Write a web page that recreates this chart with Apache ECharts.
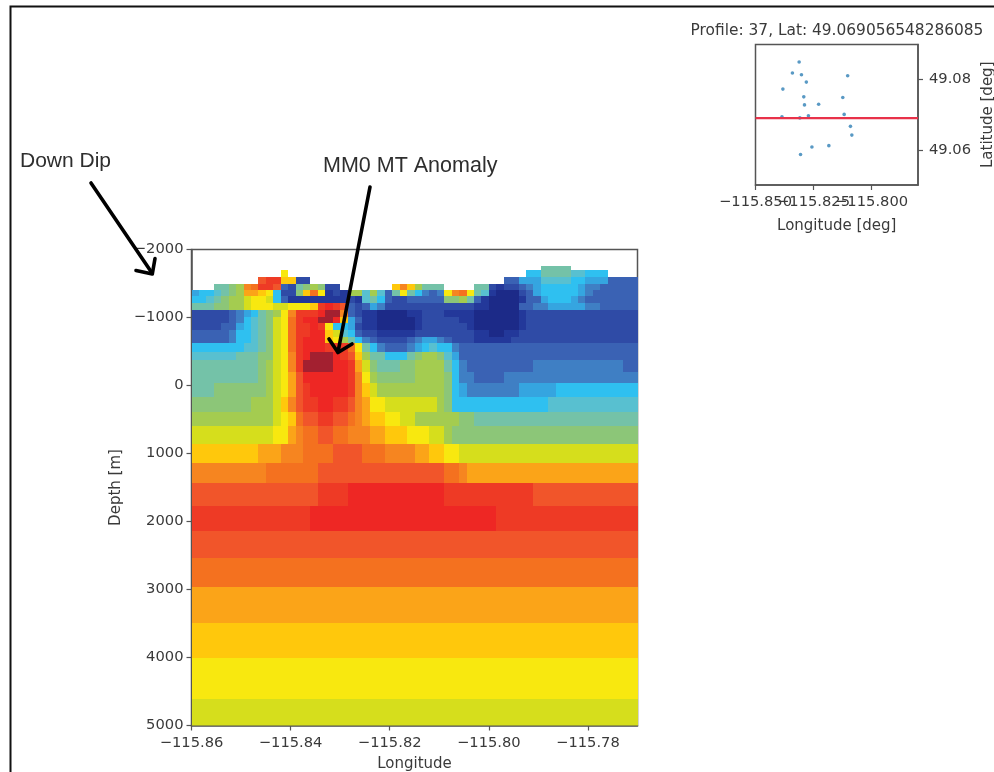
<!DOCTYPE html>
<html><head><meta charset="utf-8">
<style>html,body{margin:0;padding:0;background:#fff}#c{width:994px;height:772px;filter:blur(0.7px)}</style>
<script src="https://cdn.jsdelivr.net/npm/echarts@6/dist/echarts.min.js"></script>
</head><body><div id="c"></div>
<script>
const N = null;
const lonStart = -115.86;
const lonStep = 0.0015;
const depthEdges = [-1760,-1700,-1600,-1500,-1400,-1310,-1210,-1110,-1010,-920,-820,-720,-620,-490,-380,-200,-40,170,390,600,860,1140,1430,1770,2140,2540,2960,3490,4010,4610,5000];
const resistivityRows = [
[N,N,N,N,N,N,N,N,N,N, N,N,N,N,N,N,N,N,N,N, N,N,N,N,N,N,N,N,N,N, N,N,N,N,N,N,N,N,N,N, N,N,N,N,N,N,N,8,8,8, 8,N,N,N,N,N,N,N,N,N],
[N,N,N,N,N,N,N,N,N,N, N,N,12,N,N,N,N,N,N,N, N,N,N,N,N,N,N,N,N,N, N,N,N,N,N,N,N,N,N,N, N,N,N,N,N,6,6,8,8,8, 8,7,7,6,6,6,N,N,N,N],
[N,N,N,N,N,N,N,N,N,17, 18,18,13,13,2,2,N,N,N,N, N,N,N,N,N,N,N,N,N,N, N,N,N,N,N,N,N,N,N,N, N,N,3,3,5,5,5,7,7,7, 7,6,6,5,5,5,3,3,3,3],
[N,N,N,8,8,9,10,15,16,18, 18,17,3,2,8,9,10,9,2,2, N,N,N,N,N,N,N,13,15,13, 10,8,8,8,N,N,N,N,8,8, 2,1,2,2,3,4,5,6,6,6, 6,6,5,4,4,3,3,3,3,3],
[5,6,6,7,8,9,10,14,14,13, 12,6,2,2,9,13,16,12,1,2, 1,10,10,7,10,7,3,8,12,8, 6,4,3,4,12,15,16,12,8,7, 1,0,0,0,2,3,5,6,6,6, 6,6,5,4,3,3,3,3,3,3],
[6,6,7,8,9,10,10,11,12,12, 11,6,3,1,1,1,1,1,1,1, 1,2,1,7,8,6,3,2,2,3, 3,3,3,3,9,9,10,8,3,1, 0,0,0,0,1,3,3,5,6,6, 6,5,4,3,3,3,3,3,3,3],
[8,8,8,9,9,10,10,11,12,12, 12,11,11,12,12,12,13,18,19,18, 17,3,2,3,5,4,2,2,2,2, 2,2,2,2,2,2,2,2,1,1, 0,0,0,0,3,3,4,4,5,5, 5,5,5,4,4,3,3,3,3,3],
[2,2,2,2,2,3,4,5,6,8, 9,10,12,15,18,18,18,19,20,20, 15,3,2,1,1,0,0,0,0,1, 1,2,2,2,1,1,1,1,0,0, 0,0,0,0,1,2,2,2,2,2, 2,2,2,2,2,2,2,2,2,2],
[2,2,2,2,2,3,4,6,7,8, 9,11,12,16,18,19,19,20,20,19, 13,5,3,1,1,0,0,0,0,0, 1,2,2,2,2,2,1,1,0,0, 0,0,0,0,1,2,2,2,2,2, 2,2,2,2,2,2,2,2,2,2],
[2,2,2,2,3,3,5,6,7,8, 9,11,12,16,18,18,19,18,12,6, 6,5,2,1,1,0,0,0,0,0, 1,2,2,2,2,2,2,1,0,0, 0,0,0,0,1,2,2,2,2,2, 2,2,2,2,2,2,2,2,2,2],
[3,3,3,3,3,4,6,6,7,8, 9,11,12,16,18,18,19,19,13,11, 7,6,3,2,2,1,1,1,1,1, 2,2,2,2,2,2,2,2,1,1, 0,0,1,1,2,2,2,2,2,2, 2,2,2,2,2,2,2,2,2,2],
[3,3,3,3,3,4,6,6,7,8, 9,11,12,16,18,19,19,19,13,12, 10,8,6,4,3,2,2,2,2,3, 4,5,5,4,3,2,2,2,1,1, 1,1,1,2,2,2,2,2,2,2, 2,2,2,2,2,2,2,2,2,2],
[6,6,6,6,6,6,6,7,7,8, 9,11,12,16,18,19,19,19,18,18, 18,16,12,8,6,4,3,3,3,4, 5,6,7,6,6,4,3,3,3,3, 3,3,3,3,3,3,3,3,3,3, 3,3,3,3,3,3,3,3,3,3],
[7,7,7,7,7,7,8,8,8,9, 9,11,12,15,18,19,20,20,20,19, 18,17,13,10,8,8,6,6,6,8, 9,10,10,9,7,5,3,3,3,3, 3,3,3,3,3,3,3,3,3,3, 3,3,3,3,3,3,3,3,3,3],
[8,8,8,8,8,8,8,8,8,9, 10,11,12,15,18,20,20,20,20,19, 19,18,14,11,9,8,8,8,9,9, 10,10,10,10,8,6,4,3,3,3, 3,3,3,3,3,3,4,4,4,4, 4,4,4,4,4,4,4,4,3,3],
[8,8,8,8,8,8,8,8,8,9, 10,11,12,14,17,19,19,19,19,19, 19,18,15,12,10,9,9,9,9,9, 10,10,10,10,9,6,4,4,3,3, 3,3,4,4,4,4,4,4,4,4, 4,4,4,4,4,4,4,4,4,4],
[8,8,8,9,9,9,9,9,9,9, 10,11,12,14,17,18,19,19,19,19, 19,18,15,13,11,10,10,10,10,10, 10,10,10,10,9,6,5,4,4,4, 4,4,4,4,5,5,5,5,5,6, 6,6,6,6,6,6,6,6,6,6],
[9,9,9,9,9,9,9,9,10,10, 10,11,13,15,17,18,18,19,19,18, 18,17,15,14,12,12,11,11,11,11, 11,11,11,10,9,6,6,6,6,6, 6,6,6,6,6,6,6,6,7,7, 7,7,7,7,7,7,7,7,7,7],
[10,10,10,10,10,10,10,10,10,10, 10,11,12,13,16,17,17,18,18,17, 17,16,15,14,13,13,12,12,11,11, 10,10,10,10,10,10,9,9,8,8, 8,8,8,8,8,8,8,8,8,8, 8,8,8,8,8,8,8,8,8,8],
[11,11,11,11,11,11,11,11,11,11, 11,12,12,14,15,16,16,17,17,16, 16,15,15,15,14,14,13,13,13,12, 12,12,11,11,10,9,9,9,9,9, 9,9,9,9,9,9,9,9,9,9, 9,9,9,9,9,9,9,9,9,9],
[13,13,13,13,13,13,13,13,13,14, 14,14,15,15,15,16,16,16,16,17, 17,17,17,16,16,16,15,15,15,15, 14,14,13,13,12,12,11,11,11,11, 11,11,11,11,11,11,11,11,11,11, 11,11,11,11,11,11,11,11,11,11],
[15,15,15,15,15,15,15,15,15,15, 16,16,16,16,16,16,16,17,17,17, 17,17,17,17,17,17,17,17,17,17, 17,17,17,17,16,16,15,14,14,14, 14,14,14,14,14,14,14,14,14,14, 14,14,14,14,14,14,14,14,14,14],
[17,17,17,17,17,17,17,17,17,17, 17,17,17,17,17,17,17,18,18,18, 18,19,19,19,19,19,19,19,19,19, 19,19,19,19,18,18,18,18,18,18, 18,18,18,18,18,18,17,17,17,17, 17,17,17,17,17,17,17,17,17,17],
[18,18,18,18,18,18,18,18,18,18, 18,18,18,18,18,18,19,19,19,19, 19,19,19,19,19,19,19,19,19,19, 19,19,19,19,19,19,19,19,19,19, 19,18,18,18,18,18,18,18,18,18, 18,18,18,18,18,18,18,18,18,18],
[17,17,17,17,17,17,17,17,17,17, 17,17,17,17,17,17,17,17,17,17, 17,17,17,17,17,17,17,17,17,17, 17,17,17,17,17,17,17,17,17,17, 17,17,17,17,17,17,17,17,17,17, 17,17,17,17,17,17,17,17,17,17],
[16,16,16,16,16,16,16,16,16,16, 16,16,16,16,16,16,16,16,16,16, 16,16,16,16,16,16,16,16,16,16, 16,16,16,16,16,16,16,16,16,16, 16,16,16,16,16,16,16,16,16,16, 16,16,16,16,16,16,16,16,16,16],
[14,14,14,14,14,14,14,14,14,14, 14,14,14,14,14,14,14,14,14,14, 14,14,14,14,14,14,14,14,14,14, 14,14,14,14,14,14,14,14,14,14, 14,14,14,14,14,14,14,14,14,14, 14,14,14,14,14,14,14,14,14,14],
[13,13,13,13,13,13,13,13,13,13, 13,13,13,13,13,13,13,13,13,13, 13,13,13,13,13,13,13,13,13,13, 13,13,13,13,13,13,13,13,13,13, 13,13,13,13,13,13,13,13,13,13, 13,13,13,13,13,13,13,13,13,13],
[12,12,12,12,12,12,12,12,12,12, 12,12,12,12,12,12,12,12,12,12, 12,12,12,12,12,12,12,12,12,12, 12,12,12,12,12,12,12,12,12,12, 12,12,12,12,12,12,12,12,12,12, 12,12,12,12,12,12,12,12,12,12],
[11,11,11,11,11,11,11,11,11,11, 11,11,11,11,11,11,11,11,11,11, 11,11,11,11,11,11,11,11,11,11, 11,11,11,11,11,11,11,11,11,11, 11,11,11,11,11,11,11,11,11,11, 11,11,11,11,11,11,11,11,11,11]
];
const colorStops = ['#1c2a88','#23389a','#2f4ba6','#3a62b4','#3f7fc4','#35a5e0','#2fc0f0','#58c0d0','#74c2a8','#8cc678','#a4cc50','#d6de1c','#f8e80f','#ffc80c','#fba418','#f68520','#f4711f','#f1552a','#ee3a25','#ee2724','#a32030'];
const mainXTicks = [-115.86,-115.84,-115.82,-115.80,-115.78];
const mainYTicks = [-2000,-1000,0,1000,2000,3000,4000,5000];
const insetXTicksOuter = [-115.85,-115.8];
const insetXTicksMiddle = [-115.825];
const insetYTicks = [49.06,49.08];
const stationLon = [-115.8312,-115.8341,-115.8302,-115.8281,-115.8103,-115.8382,-115.8292,-115.8289,-115.8228,-115.8124,-115.8118,-115.8386,-115.8272,-115.8309,-115.8091,-115.8085,-115.8184,-115.8257,-115.8306];
const stationLat = [49.0850,49.0819,49.0814,49.0793,49.0811,49.0773,49.0751,49.0728,49.0730,49.0749,49.0701,49.0694,49.0697,49.0691,49.0667,49.0642,49.0612,49.0608,49.0587];
const profileLat = 49.069056548286085;

const cells = [];
resistivityRows.forEach((row, r) => row.forEach((v, c) => {
  if (v !== N) cells.push([lonStart + c * lonStep, lonStart + (c + 1) * lonStep, depthEdges[r], depthEdges[r + 1], v]);
}));
const font = 'DejaVu Sans', ink = '#3a3a3a', axisInk = '#555';
const minus = s => String(s).replace('-', '\u2212');
const lab = (f, extra) => Object.assign({color: ink, fontFamily: font, fontSize: 14.7, formatter: f, showMinLabel: true, showMaxLabel: true, hideOverlap: false}, extra);
const line = {show: true, onZero: false, lineStyle: {color: axisInk, width: 1.5}};
const tick = vals => ({show: true, length: 5, customValues: vals, lineStyle: {color: axisInk, width: 1.2}});
const nameStyle = {color: ink, fontFamily: font, fontSize: 15};
const arrowStyle = {stroke: '#000', lineWidth: 3.6, fill: 'none', lineCap: 'round', lineJoin: 'round'};
const annot = (x, y, t, size) => ({type: 'text', x, y, z: 60, style: {text: t, fill: '#2e2e2e', fontFamily: 'Liberation Sans', fontSize: size, textVerticalAlign: 'middle', textBaseline: 'middle'}});
const poly = pts => ({type: 'polyline', z: 60, shape: {points: pts}, style: arrowStyle});

const chart = echarts.init(document.getElementById('c'), null, {renderer: 'canvas'});
chart.setOption({
  animation: false,
  backgroundColor: '#fff',
  title: {text: 'Profile: 37, Lat: ' + profileLat, left: 832, top: 18, textAlign: 'center',
    textStyle: {color: ink, fontFamily: font, fontSize: 15.4, fontWeight: 'normal'}},
  grid: [
    {left: 191.5, top: 249.5, width: 446, height: 476, show: true, borderColor: axisInk, borderWidth: 1.5, backgroundColor: 'transparent', containLabel: false, outerBoundsMode: 'none'},
    {left: 755.5, top: 44.5, width: 162.5, height: 140.5, show: true, borderColor: axisInk, borderWidth: 1.5, backgroundColor: 'transparent', containLabel: false, outerBoundsMode: 'none'}
  ],
  xAxis: [
    {type: 'value', gridIndex: 0, min: -115.86, max: -115.77, name: 'Longitude', nameLocation: 'middle', nameGap: 31, nameTextStyle: nameStyle,
      splitLine: {show: false}, axisLine: line, axisTick: tick(mainXTicks),
      axisLabel: lab(v => minus(v.toFixed(2)), {customValues: mainXTicks, margin: 10})},
    {type: 'value', gridIndex: 1, min: -115.85, max: -115.78, name: 'Longitude [deg]', nameLocation: 'middle', nameGap: 34, nameTextStyle: nameStyle,
      splitLine: {show: false}, axisLine: line, axisTick: tick(insetXTicksOuter),
      axisLabel: lab(v => minus(v.toFixed(3)), {customValues: insetXTicksOuter, margin: 10})},
    {type: 'value', gridIndex: 1, min: -115.85, max: -115.78, position: 'bottom',
      splitLine: {show: false}, axisLine: {show: false, onZero: false}, axisTick: tick(insetXTicksMiddle),
      axisLabel: lab(v => minus(v.toFixed(3)), {customValues: insetXTicksMiddle, margin: 10})}
  ],
  yAxis: [
    {type: 'value', gridIndex: 0, inverse: true, min: -2000, max: 5000, name: 'Depth [m]', nameLocation: 'middle', nameGap: 68, nameTextStyle: nameStyle,
      splitLine: {show: false}, axisLine: line, axisTick: tick(mainYTicks),
      axisLabel: lab(v => minus(v), {customValues: mainYTicks, margin: 8})},
    {type: 'value', gridIndex: 1, position: 'right', min: 49.05, max: 49.09, name: 'Latitude [deg]', nameLocation: 'middle', nameGap: 63, nameRotate: 90, nameTextStyle: nameStyle,
      splitLine: {show: false}, axisLine: line, axisTick: tick(insetYTicks),
      axisLabel: lab(v => v.toFixed(2), {customValues: insetYTicks, margin: 11})}
  ],
  visualMap: {show: false, type: 'continuous', seriesIndex: 0, dimension: 4, min: 0, max: 20, inRange: {color: colorStops}},
  series: [
    {type: 'custom', xAxisIndex: 0, yAxisIndex: 0, clip: true, data: cells, encode: {x: [0, 1], y: [2, 3]},
      renderItem: (params, api) => {
        const a = api.coord([api.value(0), api.value(2)]);
        const b = api.coord([api.value(1), api.value(3)]);
        const x0 = Math.round(a[0]), x1 = Math.round(b[0]), y0 = Math.round(a[1]), y1 = Math.round(b[1]);
        return {type: 'rect', shape: {x: x0, y: y0, width: x1 - x0, height: y1 - y0},
          style: {fill: api.visual('color')}};
      }},
    {type: 'scatter', xAxisIndex: 1, yAxisIndex: 1, symbolSize: 3.6, z: 3,
      itemStyle: {color: '#2f7fb5'}, data: stationLon.map((x, i) => [x, stationLat[i]])},
    {type: 'line', xAxisIndex: 1, yAxisIndex: 1, showSymbol: false, symbol: 'none', z: 4,
      lineStyle: {color: '#e8324a', width: 2.2}, data: [[-115.85, profileLat], [-115.78, profileLat]]}
  ],
  graphic: [
    {type: 'polyline', z: 60, shape: {points: [[10.5, 772], [10.5, 6.5], [994, 6.5]]}, style: {stroke: '#111', lineWidth: 2, fill: 'none'}},
    annot(20, 161, 'Down Dip', 21),
    annot(323, 166, 'MM0 MT Anomaly', 21.5),
    poly([[91, 183], [152, 273]]),
    poly([[136, 270.5], [152.3, 274], [155, 258.5]]),
    poly([[370, 187], [338, 352]]),
    poly([[329, 339], [338, 352.5], [352, 344]])
  ]
});
</script></body></html>
